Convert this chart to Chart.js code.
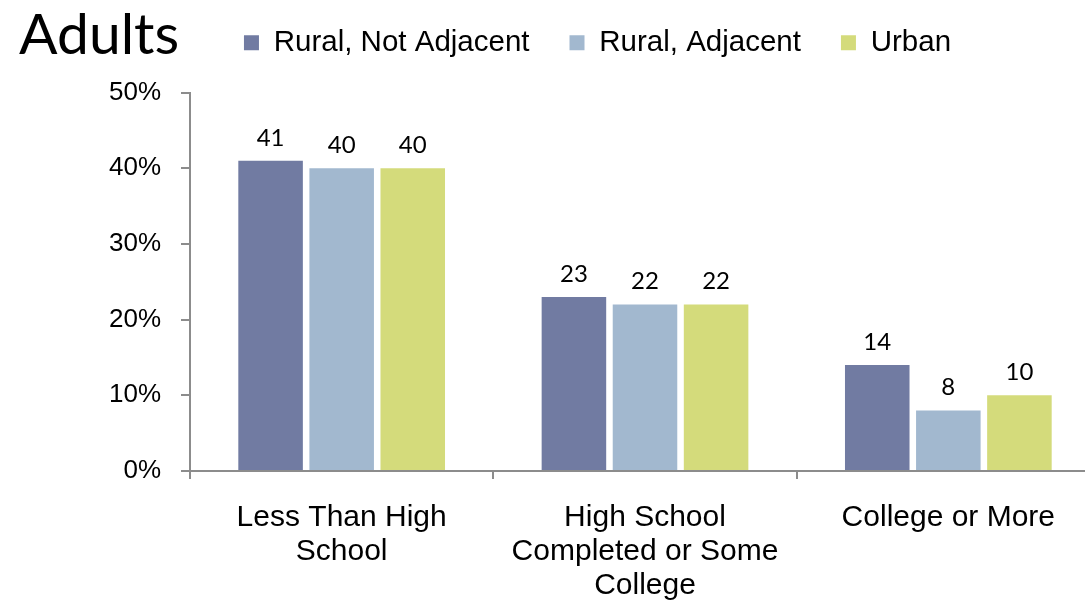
<!DOCTYPE html>
<html>
<head>
<meta charset="utf-8">
<title>Adults</title>
<script src="https://cdn.jsdelivr.net/npm/chart.js@4.4.0/dist/chart.umd.min.js"></script>
<style>
  html, body { margin: 0; padding: 0; overflow: hidden; background: #ffffff; }
  canvas { display: block; }
</style>
</head>
<body>
<canvas id="chart" width="1100" height="606" style="width:1100px;height:606px"></canvas>
<script>
// Education groups on the x axis (multi-line labels)
const categories = [
  ["Less Than High", "School"],
  ["High School", "Completed or Some", "College"],
  "College or More"
];

// Series names and values (percent)
const seriesNames = ["Rural, Not Adjacent", "Rural, Adjacent", "Urban"];
const ruralNotAdjacent = [41, 23, 14];
const ruralAdjacent = [40, 22, 8];
const urban = [40, 22, 10];

// Y axis tick values
const yTickValues = [0, 10, 20, 30, 40, 50];

const chartTitle = "Adults";

const seriesColors = ["#717ba2", "#a2b8cf", "#d4db7b"];
const axisColor = "#8c8c8c";
const arialFamily = '"Liberation Sans", Arial, sans-serif';
const labelFamily = 'Lato, "Open Sans", sans-serif';

// Title in the top-left corner and value labels above each bar
const annotate = {
  id: "annotate",
  afterDatasetsDraw(chart) {
    const ctx = chart.ctx;
    ctx.save();
    ctx.fillStyle = "#000";
    ctx.textAlign = "left";
    ctx.textBaseline = "alphabetic";
    ctx.font = "57px " + labelFamily;
    ctx.fillText(chartTitle, 19, 54);

    ctx.font = "24px " + labelFamily;
    ctx.textAlign = "center";
    chart.data.datasets.forEach((ds, i) => {
      chart.getDatasetMeta(i).data.forEach((bar, j) => {
        ctx.fillText(String(ds.data[j]), bar.x, bar.y - 15);
      });
    });
    ctx.restore();
  }
};

const seriesValues = [ruralNotAdjacent, ruralAdjacent, urban];

new Chart(document.getElementById("chart"), {
  type: "bar",
  data: {
    labels: categories,
    datasets: seriesNames.map((name, i) => ({
      label: name,
      data: seriesValues[i],
      backgroundColor: seriesColors[i],
      borderWidth: 0,
      barPercentage: 0.908,
      categoryPercentage: 0.703
    }))
  },
  options: {
    responsive: false,
    animation: false,
    devicePixelRatio: 1,
    layout: { padding: { left: 95, top: -12, right: 0, bottom: 0 } },
    plugins: {
      legend: {
        position: "top",
        align: "center",
        labels: {
          boxWidth: 15,
          boxHeight: 15,
          padding: 40,
          color: "#000",
          font: { family: arialFamily, size: 29.5 }
        }
      },
      // empty spacer row between the legend and the plot area
      subtitle: {
        display: true,
        text: "",
        weight: 500,
        padding: 0,
        font: { size: 25, lineHeight: 1 }
      },
      tooltip: { enabled: false }
    },
    scales: {
      x: {
        grid: {
          display: true,
          drawOnChartArea: false,
          drawTicks: true,
          tickLength: 8,
          color: axisColor,
          lineWidth: 2,
          offset: true
        },
        border: { color: axisColor, width: 2 },
        ticks: {
          color: "#000",
          font: { family: arialFamily, size: 30, lineHeight: 1.13 },
          padding: 22,
          maxRotation: 0,
          autoSkip: false
        },
        afterFit(scale) { scale.height = 135; }
      },
      y: {
        min: 0,
        max: 50,
        afterBuildTicks(scale) { scale.ticks = yTickValues.map(v => ({ value: v })); },
        ticks: {
          color: "#000",
          font: { family: arialFamily, size: 26 },
          padding: 20,
          callback: v => v + "%"
        },
        grid: {
          drawOnChartArea: false,
          drawTicks: true,
          tickLength: 9,
          color: axisColor,
          lineWidth: 2
        },
        border: { color: axisColor, width: 2 },
        afterFit(scale) { scale.width = 95; }
      }
    }
  },
  plugins: [annotate]
});
</script>
</body>
</html>
